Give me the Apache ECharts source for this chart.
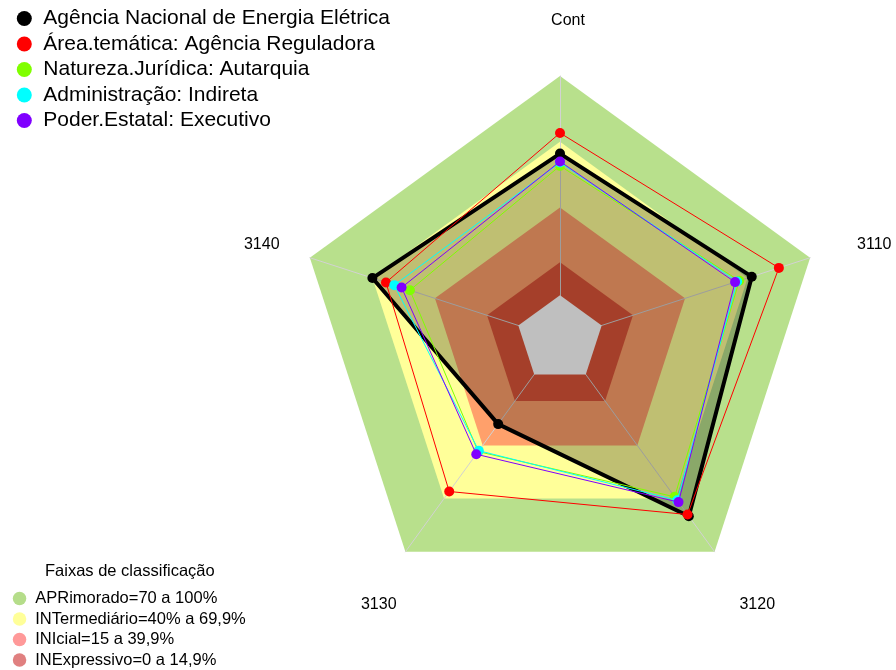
<!DOCTYPE html>
<html><head><meta charset="utf-8">
<script src="https://cdn.jsdelivr.net/npm/echarts@6/dist/echarts.min.js"></script>
<style>html,body{margin:0;padding:0;background:#fff}#c{width:896px;height:670px}</style>
</head><body><div id="c"></div>
<script>
// Indicators in clockwise order starting at the top
const indicators = ['Cont', '3110', '3120', '3130', '3140'];
const seriesNames = [
  'Agência Nacional de Energia Elétrica',
  'Área.temática: Agência Reguladora',
  'Natureza.Jurídica: Autarquia',
  'Administração: Indireta',
  'Poder.Estatal: Executivo'
];
const aneel         = [64.6, 72, 80, 28, 70];
const areaTematica  = [74, 85, 79, 66, 63.5];
const natureza      = [59, 66, 69, 43.5, 52];
const administracao = [60.5, 65, 71, 43, 59.5];
const poder         = [61, 64, 72, 45, 56];
const seriesValues = [aneel, areaTematica, natureza, administracao, poder];
const seriesColors = ['#000000', '#ff0000', '#80ff00', '#00ffff', '#8000ff'];

const bandTitle = 'Faixas de classificação';
const bandNames = ['APRimorado=70 a 100%', 'INTermediário=40% a 69,9%', 'INIcial=15 a 39,9%', 'INExpressivo=0 a 14,9%'];
const bandLimits = [100, 70, 40, 15];
const zeroLimit = 0;
const bandLegendColors = ['#b5dd8a', '#ffff99', '#ff9999', '#e08080'];
const bandFillColors = ['#b8e08c', '#ffff99', '#ffa06b', '#dd5538'];
const axisMin = -20, axisMax = 100;

// layout
const CX = 560, CY = 339, R = 263;
const LABEL_CX = 568, LABEL_CY = 342.5, LABEL_R = 322;

// ECharts places indicators counter-clockwise: reorder
const order = [0, 4, 3, 2, 1];
const reorder = arr => order.map(i => arr[i]);
const fill = v => indicators.map(() => v);

const series = [];
bandNames.forEach((n, i) => {
  series.push({
    type: 'radar', name: n, z: 2, silent: true, symbol: 'none',
    itemStyle: { color: bandLegendColors[i] },
    lineStyle: { width: 0, opacity: 0 },
    areaStyle: { color: bandFillColors[i], opacity: 1 },
    data: [{ value: reorder(fill(bandLimits[i])) }]
  });
});
series.push({
  type: 'radar', name: 'zero', z: 4, silent: true, symbol: 'none',
  lineStyle: { width: 0, opacity: 0 },
  areaStyle: { color: '#ffffff', opacity: 1 },
  data: [{ value: reorder(fill(zeroLimit)) }]
});
seriesNames.forEach((n, i) => {
  const isMain = i === 0;
  series.push({
    type: 'radar', name: n, z: 5 + i, symbol: 'circle', symbolSize: 10,
    itemStyle: { color: seriesColors[i] },
    lineStyle: { color: seriesColors[i], width: isMain ? 4 : 1 },
    areaStyle: isMain ? { color: 'rgba(0,0,0,0.25)', opacity: 1 } : undefined,
    data: [{ value: reorder(seriesValues[i]) }]
  });
});

// Axis name labels, placed around the chart (clockwise from top)
const labelGraphics = indicators.map((name, i) => {
  const a = i * 2 * Math.PI / indicators.length;
  const x = LABEL_CX + LABEL_R * Math.sin(a);
  const y = LABEL_CY - LABEL_R * Math.cos(a) + (i === 0 ? 0 : 2);
  return {
    type: 'text', x: x, y: y, z: 20,
    style: { text: name, fill: '#000', font: '16px "Liberation Sans", Arial, sans-serif', align: 'center', verticalAlign: 'middle' }
  };
});

const chart = echarts.init(document.getElementById('c'));
chart.setOption({
  animation: false,
  backgroundColor: '#ffffff',
  textStyle: { fontFamily: 'Liberation Sans, Arial, sans-serif' },
  title: {
    text: bandTitle, left: 45, top: 563, padding: 0,
    textStyle: { fontSize: 16.5, fontWeight: 'normal', color: '#000', fontFamily: 'Liberation Sans' }
  },
  legend: [
    {
      data: seriesNames, orient: 'vertical', left: 16.8, top: 8, padding: 0,
      icon: 'circle', itemWidth: 28, itemHeight: 15, itemGap: 4.5,
      textStyle: { fontSize: 21, color: '#000', fontFamily: 'Liberation Sans' },
      selectedMode: false
    },
    {
      data: bandNames, orient: 'vertical', left: 12.8, top: 590, padding: 0,
      icon: 'circle', itemWidth: 21.4, itemHeight: 13.5, itemGap: 3.5,
      textStyle: { fontSize: 16.5, color: '#000', fontFamily: 'Liberation Sans' },
      selectedMode: false
    }
  ],
  graphic: labelGraphics,
  radar: {
    z: 3,
    center: [CX, CY], radius: R, startAngle: 90, shape: 'polygon',
    splitNumber: 6,
    indicator: reorder(indicators).map(n => ({ name: n, min: axisMin, max: axisMax })),
    axisName: { show: false },
    axisLine: { lineStyle: { color: '#d2d2d2', width: 1 } },
    splitLine: { show: false },
    splitArea: { show: false }
  },
  series: series
});
</script></body></html>
